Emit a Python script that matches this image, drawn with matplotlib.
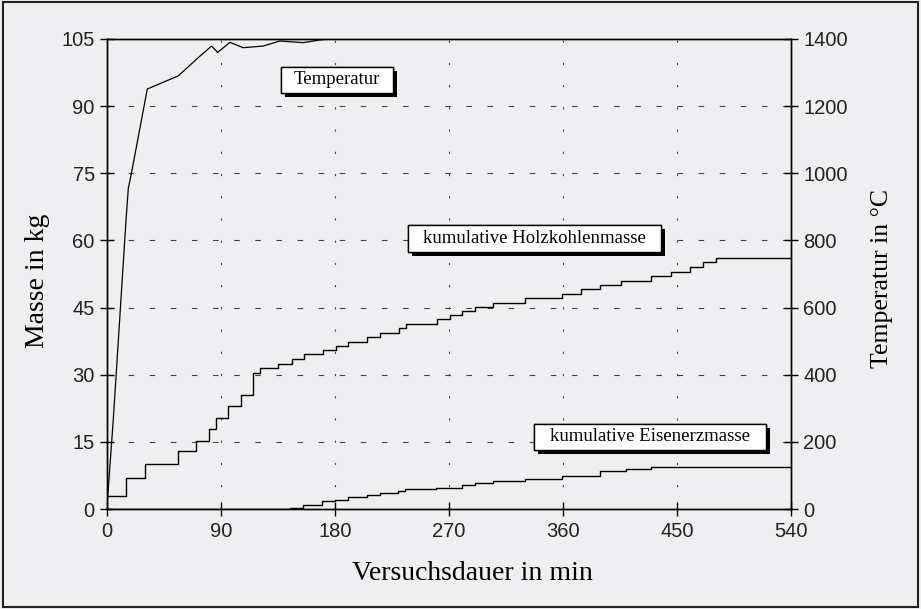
import matplotlib.pyplot as plt
from matplotlib.patches import Rectangle
from matplotlib import patheffects

# Temperatur (rechte Achse, °C)
temp_t = [0, 4.7, 14.8, 16.6, 19.3, 31.6, 56, 73.2, 82.4, 87.2, 96.9, 107.4, 123.2, 136.3, 154.7, 167.9, 175]
temp_c = [20, 265, 861, 955, 1005, 1251, 1290, 1349, 1379, 1360, 1390, 1374, 1379, 1394, 1389, 1397, 1400]

# kumulative Holzkohlenmasse (kg), Stufen
holz_t = [0, 14.8, 29.8, 55.6, 70, 80.5, 85.8, 95.5, 105.3, 115.3, 120.5, 135, 145.6, 155.5,
          170.5, 180.5, 190.3, 205.3, 215.3, 230.3, 235.6, 260.5, 270.5, 280.3, 290.3, 304.7,
          329.8, 359.5, 374.5, 389.5, 406, 429.8, 445, 460, 470.5, 480.5, 540]
holz_kg = [3, 7.0, 10.0, 13.0, 15.3, 17.8, 20.3, 22.9, 25.5, 30.3, 31.5, 32.4, 33.4, 34.6,
           35.5, 36.4, 37.3, 38.4, 39.4, 40.4, 41.3, 42.4, 43.3, 44.3, 45.2, 46.1,
           47.1, 48.0, 49.1, 50.0, 50.9, 52.1, 53.0, 54.1, 55.1, 56.0, 56.0]

# kumulative Eisenerzmasse (kg), Stufen
eisen_t = [0, 144, 154.8, 169.7, 179.8, 190.3, 205.3, 215.3, 229.7, 235, 260, 279.8, 290.3,
           304.7, 329.8, 359.5, 389, 409.5, 429.8, 540]
eisen_kg = [0, 0.3, 1.0, 1.7, 2.1, 2.6, 3.1, 3.6, 4.1, 4.5, 4.8, 5.4, 5.8,
            6.2, 6.8, 7.4, 8.4, 9.0, 9.3, 9.3]

x_ticks = [0, 90, 180, 270, 360, 450, 540]
y_ticks = [0, 15, 30, 45, 60, 75, 90, 105]
y2_ticks = [0, 200, 400, 600, 800, 1000, 1200, 1400]

bg = '#efeff1'
serif = ['Liberation Serif', 'DejaVu Serif']
sans = ['Liberation Sans', 'DejaVu Sans']

fig = plt.figure(figsize=(9.21, 6.09), dpi=100, facecolor=bg)
ax = fig.add_axes([0.1165, 0.1642, 0.8588 - 0.1165, 0.936 - 0.1642])
ax.set_facecolor(bg)
ax2 = ax.twinx()

# Gitter
for yv in y_ticks[1:-1]:
    ax.axhline(yv, color='#444444', lw=0.8, ls=(0, (5, 14)), zorder=1)
for xv in x_ticks[1:-1]:
    ax.axvline(xv, color='#444444', lw=0.8, ls=(0, (2, 18)), zorder=1)

ax.step(holz_t, holz_kg, where='post', color='black', lw=1.0, zorder=3)
ax.step(eisen_t, eisen_kg, where='post', color='black', lw=1.0, zorder=3)
ax2.plot(temp_t, temp_c, color='black', lw=0.9)

ax.set_xlim(0, 540)
ax.set_ylim(0, 105)
ax2.set_ylim(0, 1400)
ax.set_xticks(x_ticks)
ax.set_yticks(y_ticks)
ax2.set_yticks(y2_ticks)

for a in (ax, ax2):
    for s in a.spines.values():
        s.set_linewidth(1.0)
        s.set_color('black')

ax.tick_params(axis='both', direction='inout', length=10, width=1.0, labelsize=14.5, pad=4)
ax2.tick_params(axis='y', direction='inout', length=10, width=1.0, labelsize=14.5, pad=4)
for lab in ax.get_xticklabels() + ax.get_yticklabels() + ax2.get_yticklabels():
    lab.set_family(sans)
    lab.set_color('#222222')

ax.set_xlabel('Versuchsdauer in min', family=serif, fontsize=20)
ax.xaxis.set_label_coords(0.534, -0.11)
ax.set_ylabel('Masse in kg', family=serif, fontsize=20)
ax.yaxis.set_label_coords(-0.084, 0.485)
ax2.set_ylabel('Temperatur in °C', family=serif, fontsize=18.5)
ax2.yaxis.set_label_coords(1.1175, 0.49)

# Beschriftungskästen mit Schatten
boxes = [
    ('Temperatur', 136.9, 93.0, 225.3, 98.8),
    ('kumulative Holzkohlenmasse', 237.6, 57.4, 437.1, 63.4),
    ('kumulative Eisenerzmasse', 336.9, 13.2, 520.1, 19.0),
]
for txt, x0, y0, x1, y1 in boxes:
    r = Rectangle((x0, y0), x1 - x0, y1 - y0, fc='white', ec='black', lw=1.0, zorder=5)
    r.set_path_effects([patheffects.withSimplePatchShadow(offset=(3, -3), shadow_rgbFace='black', alpha=1.0),
                        patheffects.Normal()])
    ax.add_patch(r)
    ax.text((x0 + x1) / 2, (y0 + y1) / 2, txt, ha='center', va='center',
            family=serif, fontsize=13.5, zorder=6)

# Rahmen um die ganze Abbildung
fig.patches.append(Rectangle((0.003, 0.004), 0.994, 0.992, transform=fig.transFigure,
                             fill=False, ec='#222222', lw=1.5))

fig.savefig('out.png', dpi=100, facecolor=bg)
